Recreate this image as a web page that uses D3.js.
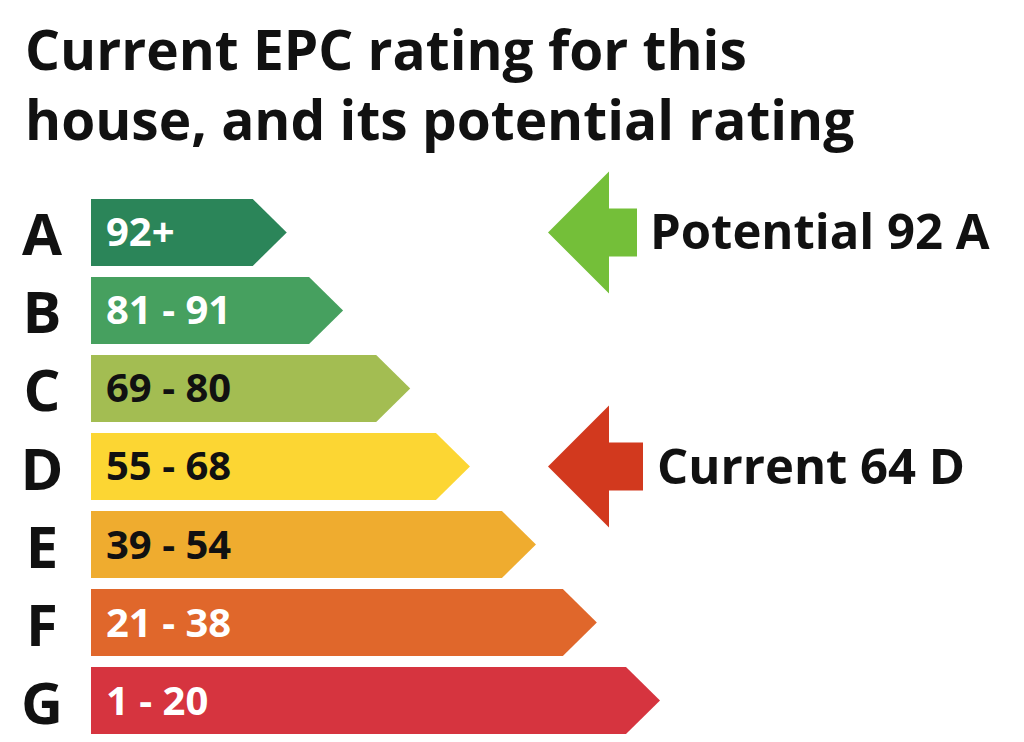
<!DOCTYPE html>
<html>
<head>
<meta charset="utf-8">
<script src="https://cdn.jsdelivr.net/npm/d3@7"></script>
<style>
  body { margin: 0; background: #fff; }
  text { font-family: 'Open Sans', 'Noto Sans', sans-serif; font-weight: 700; }
</style>
</head>
<body>
<svg id="chart" width="1024" height="742"></svg>
<script>
const titleLines = ['Current EPC rating for this', 'house, and its potential rating']
const bands = ['A', 'B', 'C', 'D', 'E', 'F', 'G']
const ranges = ['92+', '81 - 91', '69 - 80', '55 - 68', '39 - 54', '21 - 38', '1 - 20']
const bandLength = [34.4, 44.3, 56.1, 66.6, 78.2, 88.9, 100]
const bandColors = ['#2b8559', '#46a05f', '#a3bd52', '#fcd633', '#efac2f', '#e0672b', '#d6343f']
const labelColors = ['#fff', '#fff', '#111', '#111', '#111', '#fff', '#fff']
const ratings = [
  { label: 'Potential 92 A', band: 'A', color: '#74bf39' },
  { label: 'Current 64 D', band: 'D', color: '#d2391e' }
]

const svg = d3.select('#chart')

svg.selectAll('.title').data(titleLines).enter()
  .append('text')
  .attr('x', 25)
  .attr('y', (d, i) => 70 + i * 70)
  .attr('font-size', 55)
  .attr('fill', '#111')
  .text(d => d)

const left = 91
const x = d3.scaleLinear().domain([0, 100]).range([0, 569])
const y = d3.scaleBand().domain(bands).range([193.5, 739.5]).paddingInner(0.141).paddingOuter(0.07)
const tip = 34

const rows = svg.selectAll('.band').data(bands).enter()
  .append('g')
  .attr('transform', d => 'translate(0,' + y(d) + ')')

const h = y.bandwidth()

rows.append('path')
  .attr('d', (d, i) => {
    const w = x(bandLength[i])
    return 'M' + left + ',0H' + (left + w - tip) + 'L' + (left + w) + ',' + h / 2 +
      'L' + (left + w - tip) + ',' + h + 'H' + left + 'Z'
  })
  .attr('fill', (d, i) => bandColors[i])

rows.append('text')
  .attr('x', 42)
  .attr('y', h / 2 + 23)
  .attr('text-anchor', 'middle')
  .attr('font-size', 58)
  .attr('fill', '#111')
  .text(d => d)

rows.append('text')
  .attr('x', 106)
  .attr('y', h / 2 + 14)
  .attr('font-size', 40)
  .attr('fill', (d, i) => labelColors[i])
  .text((d, i) => ranges[i])

// rating arrows
const arrows = svg.selectAll('.rating').data(ratings).enter()
  .append('g')
  .attr('transform', d => 'translate(548,' + (y(d.band) + h / 2) + ')')

arrows.append('path')
  .attr('d', (d, i) => {
    const end = i === 0 ? 89 : 95
    return 'M0,0L61,-61V-24H' + end + 'V24H61V61Z'
  })
  .attr('fill', d => d.color)

arrows.append('text')
  .attr('x', (d, i) => i === 0 ? 102 : 109)
  .attr('y', 17)
  .attr('font-size', 49)
  .attr('fill', '#111')
  .text(d => d.label)
</script>
</body>
</html>
